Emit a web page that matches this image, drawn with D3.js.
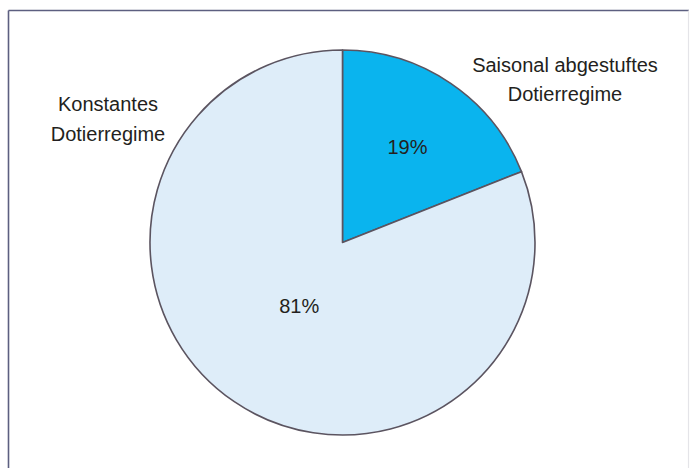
<!DOCTYPE html>
<html>
<head>
<meta charset="utf-8">
<script src="https://cdn.jsdelivr.net/npm/d3@7"></script>
<style>
html,body{margin:0;padding:0;background:#fff;}
svg{display:block;}
text{font-family:"Liberation Sans",Arial,sans-serif;fill:#231f20;}
</style>
</head>
<body>
<svg id="chart" width="692" height="468"></svg>
<script>
const categories = ["Saisonal abgestuftes Dotierregime", "Konstantes Dotierregime"];
const labelLines = [["Saisonal abgestuftes", "Dotierregime"], ["Konstantes", "Dotierregime"]];
const values = [19, 81];
const percentLabels = ["19%", "81%"];
const colors = ["#0ab4ee", "#deedf9"];

const svg = d3.select("#chart");
const W = 692, H = 468;

// frame
svg.append("line").attr("x1", 8.5).attr("y1", 10.5).attr("x2", 689).attr("y2", 10.5)
  .attr("stroke", "#5c5f80").attr("stroke-width", 1.6);
svg.append("line").attr("x1", 8.5).attr("y1", 10.5).attr("x2", 8.5).attr("y2", H)
  .attr("stroke", "#5c5f80").attr("stroke-width", 1.6);
svg.append("line").attr("x1", 688.5).attr("y1", 10.5).attr("x2", 688.5).attr("y2", H)
  .attr("stroke", "#e4e4e8").attr("stroke-width", 1.2);

const cx = 342.5, cy = 242.5, r = 192.5;
const pie = d3.pie().sort(null).value(d => d)(values);
const arc = d3.arc().innerRadius(0).outerRadius(r);

const g = svg.append("g").attr("transform", `translate(${cx},${cy})`);
g.selectAll("path.slice").data(pie).enter().append("path")
  .attr("class", "slice")
  .attr("d", arc)
  .attr("fill", (d, i) => colors[i])
  .attr("stroke", "#5b5460")
  .attr("stroke-width", 1.6)
  .attr("stroke-linejoin", "round");

const labelRadiusFrac = [0.6, 0.4];
g.selectAll("text.pct").data(pie).enter().append("text")
  .attr("class", "pct")
  .attr("transform", (d, i) => {
    const a = d3.arc().innerRadius(r * labelRadiusFrac[i]).outerRadius(r * labelRadiusFrac[i]);
    const c = a.centroid(d);
    return `translate(${c[0]},${c[1]})`;
  })
  .attr("text-anchor", "middle")
  .attr("dy", "0.35em")
  .attr("font-size", 20)
  .text((d, i) => percentLabels[i]);

// category labels
const catPos = [[565, 72], [108, 111]];
const lineGap = [28.5, 30];
labelLines.forEach((lines, i) => {
  const t = svg.append("text")
    .attr("x", catPos[i][0]).attr("y", catPos[i][1])
    .attr("text-anchor", "middle").attr("font-size", 20);
  lines.forEach((ln, j) => {
    t.append("tspan").attr("x", catPos[i][0]).attr("y", catPos[i][1] + j * lineGap[i]).text(ln);
  });
});
</script>
</body>
</html>
